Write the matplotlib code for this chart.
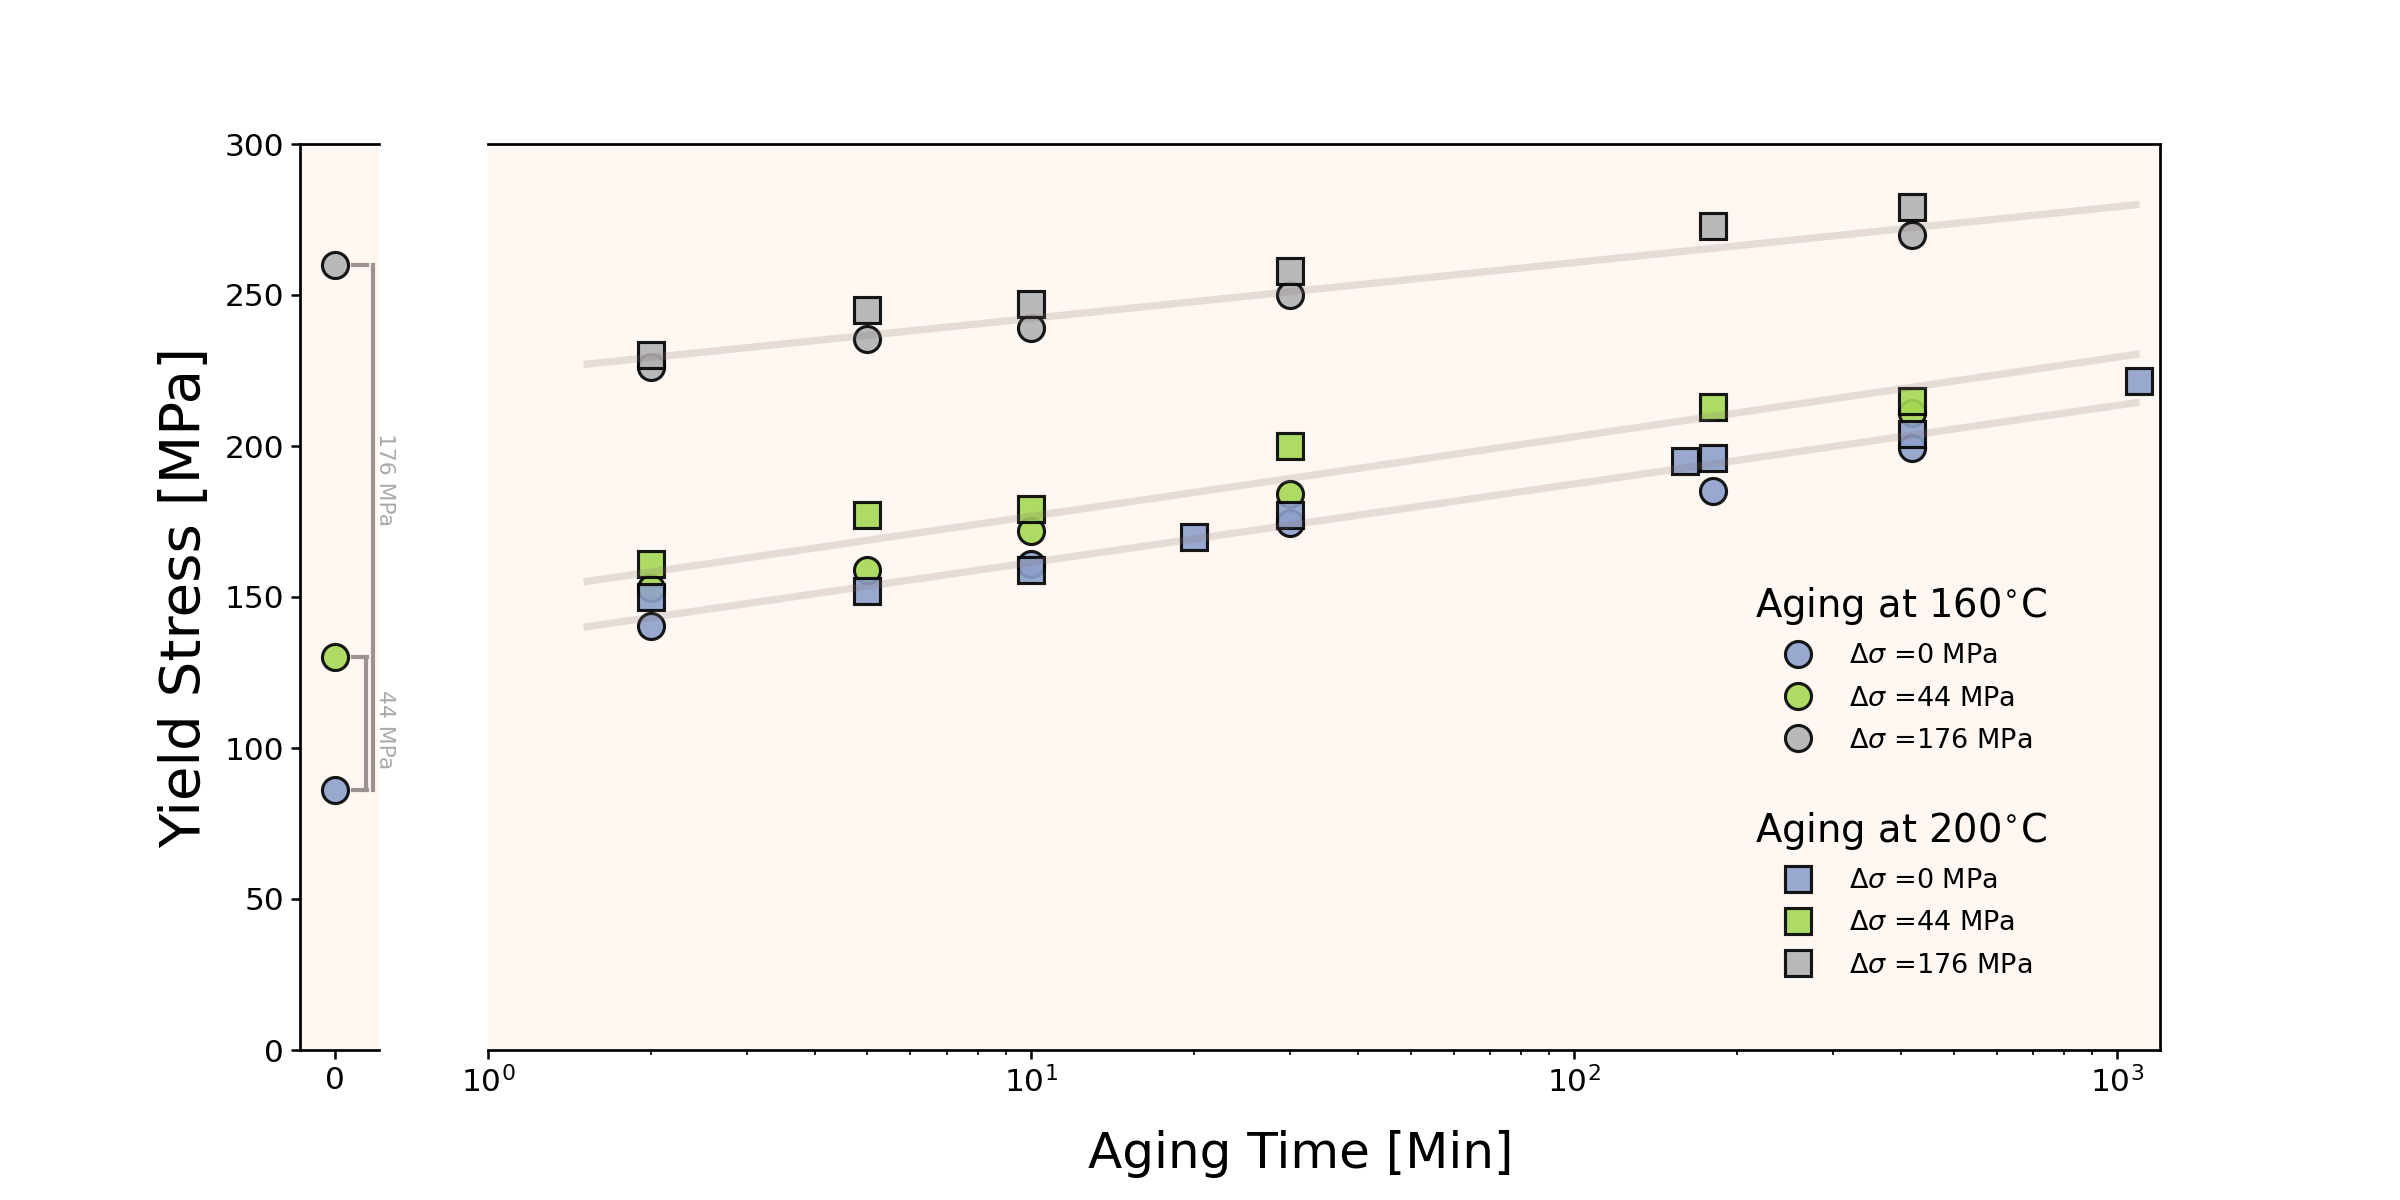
import numpy as np
import matplotlib.pyplot as plt

# --- dados ---
# envelhecimento a 160 C (círculos)
t_c_azul = [2, 10, 30, 180, 420]
y_c_azul = [140.5, 161, 174.5, 185, 199.5]
t_c_verde = [2, 5, 10, 30, 420]
y_c_verde = [153, 159, 172, 184, 211]
t_c_cinza = [2, 5, 10, 30, 420]
y_c_cinza = [226, 235.5, 239, 250, 270]

# envelhecimento a 200 C (quadrados)
t_q_azul = [2, 5, 10, 20, 30, 160, 180, 420, 1100]
y_q_azul = [150, 152, 159, 170, 177, 195, 196, 204, 221.5]
t_q_verde = [2, 5, 10, 30, 180, 420]
y_q_verde = [161, 177, 179, 200, 213, 215]
t_q_cinza = [2, 5, 10, 30, 180, 420]
y_q_cinza = [230, 245, 247, 258, 273, 279]

# retas de tendência (extremos)
t_reta = [1.5, 1100]
reta_azul = [140, 214.5]
reta_verde = [155, 230.5]
reta_cinza = [227, 280]

# estado inicial (t = 0)
y_inicial = [86, 130, 260]
rotulos = ['0', '44', '176']

cores = ['#8da0cb', '#a6d854', '#b3b3b3']
fundo = '#fef7f2'

fig = plt.figure(figsize=(16, 8), dpi=150)
ax0 = fig.add_axes([0.125, 0.125, 0.033, 0.755])
ax1 = fig.add_axes([0.2033, 0.125, 0.6967, 0.755])

for ax in (ax0, ax1):
    ax.set_facecolor(fundo)
    for s in ax.spines.values():
        s.set_linewidth(1.3)
    ax.tick_params(which='major', length=4.2, width=1.2, labelsize=15)
    ax.tick_params(which='minor', length=2.2, width=0.8)

estilo = dict(linestyle='none', markersize=12.5, markeredgecolor='k',
              markeredgewidth=1.5, alpha=0.9)

# --- painel da esquerda ---
for y, c in zip(y_inicial, cores):
    ax0.plot([0], [y], marker='o', color=c, **estilo)

cor_chave = '#9a9391'
for y in y_inicial:
    ax0.plot([0.2, 0.36], [y, y], color=cor_chave, lw=2)
ax0.plot([0.35, 0.35], [y_inicial[0], y_inicial[1]], color=cor_chave, lw=2, clip_on=False)
ax0.plot([0.43, 0.43], [y_inicial[0], y_inicial[2]], color=cor_chave, lw=2, clip_on=False)
ax0.text(0.57, 106, rotulos[1] + ' MPa',
         rotation=270, va='center', ha='center', fontsize=10.5, color='#aaaaaa', clip_on=False)
ax0.text(0.57, 189, rotulos[2] + ' MPa',
         rotation=270, va='center', ha='center', fontsize=10.5, color='#aaaaaa', clip_on=False)

ax0.set_xlim(-0.4, 0.5)
ax0.set_ylim(0, 300)
ax0.set_xticks([0])
ax0.set_yticks(np.arange(0, 301, 50))
ax0.spines['right'].set_visible(False)
ax0.set_ylabel('Yield Stress [MPa]', fontsize=27, labelpad=6)

# --- painel principal ---
h160 = []
for t, y, c, r in zip([t_c_azul, t_c_verde, t_c_cinza], [y_c_azul, y_c_verde, y_c_cinza], cores, rotulos):
    h, = ax1.plot(t, y, marker='o', color=c, label=r'$\Delta\sigma$ =' + r + ' MPa', **estilo)
    h160.append(h)
h200 = []
for t, y, c, r in zip([t_q_azul, t_q_verde, t_q_cinza], [y_q_azul, y_q_verde, y_q_cinza], cores, rotulos):
    h, = ax1.plot(t, y, marker='s', color=c, label=r'$\Delta\sigma$ =' + r + ' MPa', **estilo)
    h200.append(h)

for reta in (reta_azul, reta_verde, reta_cinza):
    ax1.plot(t_reta, reta, color='#857370', alpha=0.2, lw=3.5, solid_capstyle='butt')

ax1.set_xscale('log')
ax1.set_xlim(1, 1200)
ax1.set_ylim(0, 300)
ax1.spines['left'].set_visible(False)
ax1.tick_params(axis='y', left=False, labelleft=False)
ax1.set_xlabel('Aging Time [Min]', fontsize=24, labelpad=15)
ax1.xaxis.label.set_x(0.486)

opcoes_leg = dict(loc='upper left', frameon=False, fontsize=13, title_fontsize=18.5,
                  handlelength=3.2, handletextpad=0.3, labelspacing=0.6)
leg1 = ax1.legend(handles=h160, title=r'Aging at 160$^{\circ}$C',
                  bbox_to_anchor=(0.743, 0.54), **opcoes_leg)
leg1._legend_box.align = 'left'
ax1.add_artist(leg1)
leg2 = ax1.legend(handles=h200, title=r'Aging at 200$^{\circ}$C',
                  bbox_to_anchor=(0.743, 0.292), **opcoes_leg)
leg2._legend_box.align = 'left'

plt.savefig('out.png', dpi=150)
